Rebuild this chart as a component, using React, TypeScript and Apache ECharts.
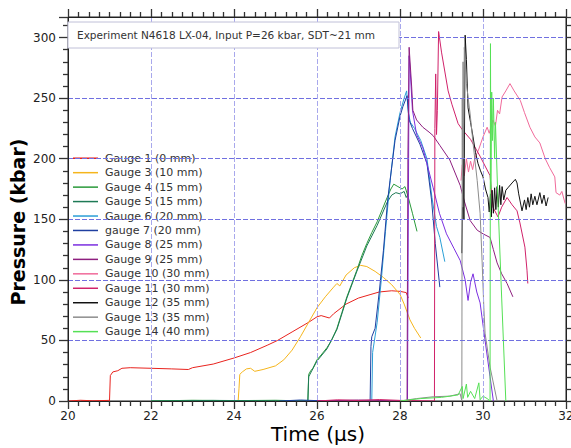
import React, { useEffect, useRef } from "react";
import * as echarts from "echarts";

const gaugeNames = [
  "Gauge 1 (0 mm)", "Gauge 3 (10 mm)", "Gauge 4 (15 mm)", "Gauge 5 (15 mm)",
  "Gauge 6 (20 mm)", "gauge 7 (20 mm)", "Gauge 8 (25 mm)", "Gauge 9 (25 mm)",
  "Gauge 10 (30 mm)", "Gauge 11 (30 mm)", "Gauge 12 (35 mm)", "Gauge 13 (35 mm)",
  "Gauge 14 (40 mm)",
];
const gaugeColors = [
  "#e8231e", "#f5b51c", "#2a9a3a", "#1e7a56", "#2a9fd6", "#1f3fa0", "#7b2fe0",
  "#8e1f7f", "#f06a9a", "#d0226a", "#111111", "#8c8c8c", "#55e055",
];
const titleText = "Experiment N4618 LX-04, Input P=26 kbar, SDT~21 mm";
const xAxisTitle = "Time (μs)";
const yAxisTitle = "Pressure (kbar)";

// [time (us), pressure (kbar)]
const gauge1 = [
  [20.0, 0], [20.3, 0.6], [20.6, 0.2], [20.98, 0.5], [21.0, 0], [21.02, 21], [21.08, 24], [21.2, 25],
  [21.3, 27], [21.5, 27.5], [22.0, 27], [22.5, 26.5], [22.9, 26], [23.0, 27.5], [23.5, 30.5],
  [24.0, 35.5], [24.4, 40], [24.8, 46], [25.05, 50], [25.4, 57], [25.8, 65], [26.0, 69.5],
  [26.1, 70.5], [26.3, 68.5], [26.4, 72], [26.7, 80], [27.0, 85], [27.3, 88], [27.5, 90],
  [27.8, 91], [28.0, 90.5], [28.15, 89.5], [28.2, 85],
];
const gauge3 = [
  [24.1, 0], [24.12, 10], [24.14, 22], [24.2, 24], [24.3, 26.5], [24.4, 27], [24.5, 24.5],
  [24.7, 26], [25.0, 29], [25.2, 34], [25.4, 42], [25.6, 53], [25.8, 65], [26.0, 77],
  [26.2, 86], [26.4, 94], [26.48, 97], [26.55, 95], [26.7, 104], [26.9, 110], [27.05, 112],
  [27.2, 111], [27.4, 107], [27.6, 102], [27.8, 96], [28.0, 88], [28.1, 80], [28.24, 67],
  [28.35, 60], [28.5, 52],
];
const gauge4 = [
  [22.0, 0], [23.0, 0.6], [24.0, 0.3], [25.0, 0.6], [25.78, 0], [25.8, 22], [25.85, 25],
  [25.9, 27], [26.0, 34], [26.1, 38], [26.24, 44], [26.35, 50], [26.48, 60], [26.6, 73],
  [26.72, 86], [26.84, 97], [26.96, 108], [27.08, 120], [27.2, 130], [27.32, 139],
  [27.45, 148], [27.57, 158], [27.69, 168], [27.78, 175], [27.85, 179], [27.95, 177],
  [28.05, 175], [28.12, 177], [28.2, 168], [28.3, 155], [28.41, 140],
];
const gauge5 = [
  [22.0, 0], [23.5, 0.5], [25.78, 0], [25.8, 20], [25.86, 24], [26.0, 33], [26.24, 43],
  [26.48, 59], [26.72, 85], [26.96, 107], [27.2, 128], [27.45, 145], [27.69, 164],
  [27.8, 170], [27.9, 172], [28.0, 171], [28.1, 173], [28.15, 168], [28.2, 171],
];
const gauge6 = [
  [27.32, 0], [27.34, 40], [27.45, 65], [27.55, 100], [27.65, 140], [27.75, 178],
  [27.88, 218], [28.0, 238], [28.1, 250], [28.16, 256], [28.2, 238], [28.25, 230],
  [28.35, 225], [28.5, 215], [28.65, 200], [28.77, 168], [28.88, 144], [28.96, 135],
  [29.08, 115],
];
const gauge7 = [
  [25.1, 0], [25.6, 0.8], [26.0, 0.3], [27.28, 0], [27.3, 45], [27.32, 53], [27.4, 60],
  [27.5, 90], [27.6, 124], [27.7, 165], [27.76, 182], [27.88, 215], [28.0, 235],
  [28.07, 243], [28.17, 252], [28.2, 240], [28.22, 232], [28.3, 225], [28.48, 212],
  [28.65, 196], [28.76, 166], [28.85, 130], [28.96, 94],
];
const gauge8 = [
  [28.18, 0], [28.2, 150], [28.22, 285], [28.25, 270], [28.3, 240], [28.4, 220],
  [28.55, 209], [28.8, 176], [28.95, 155], [29.12, 138], [29.3, 126], [29.45, 116],
  [29.57, 100], [29.64, 83], [29.7, 98], [29.76, 105], [29.85, 90], [29.93, 81],
  [30.05, 50], [30.17, 20], [30.25, 0],
];
const gauge9 = [
  [26.0, 0], [27.0, 0.8], [28.17, 0], [28.19, 200], [28.22, 292], [28.28, 260],
  [28.31, 240], [28.4, 232], [28.55, 226], [28.7, 222], [28.8, 219], [28.96, 211],
  [29.2, 199], [29.45, 178], [29.55, 165], [29.69, 149], [29.86, 141], [30.0, 138],
  [30.17, 135], [30.25, 125], [30.34, 114], [30.45, 105], [30.58, 97], [30.72, 86],
];
const gauge10 = [
  [29.47, 182], [29.5, 195], [29.55, 186], [29.6, 200], [29.65, 189], [29.7, 198],
  [29.75, 191], [29.8, 200], [29.9, 208], [30.0, 218], [30.1, 226], [30.15, 221],
  [30.24, 232], [30.3, 227], [30.35, 240], [30.4, 237], [30.46, 251], [30.55, 256],
  [30.65, 262], [30.75, 256], [30.9, 248], [31.0, 238], [31.13, 226], [31.25, 218],
  [31.37, 213], [31.5, 200], [31.6, 193], [31.73, 185], [31.76, 172], [31.85, 170],
  [31.9, 173], [31.98, 163],
];
const gauge11 = [
  [26.0, 0], [26.5, 1], [27.0, 0.4], [27.5, 1.2], [28.0, 0.5], [28.83, 0], [28.84, 225],
  [28.86, 270], [28.88, 220], [28.9, 240], [28.93, 305], [29.0, 288], [29.16, 256],
  [29.25, 245], [29.4, 229], [29.5, 224], [29.7, 216], [29.93, 202], [30.17, 186],
  [30.24, 160], [30.36, 152], [30.45, 160], [30.58, 168], [30.7, 162], [30.82, 157],
  [30.89, 147], [31.01, 127], [31.06, 108], [31.08, 97],
];
const gauge12 = [
  [29.49, 122], [29.52, 200], [29.54, 150], [29.57, 302], [29.6, 282], [29.64, 242],
  [29.7, 230], [29.76, 218], [29.82, 205], [29.88, 196], [29.94, 190], [30.0, 185],
  [30.06, 175], [30.12, 168], [30.15, 156], [30.18, 171], [30.2, 152], [30.22, 174],
  [30.25, 155], [30.28, 176], [30.31, 158], [30.34, 177], [30.37, 160], [30.4, 178],
  [30.43, 162], [30.46, 177], [30.5, 166], [30.55, 174], [30.6, 176], [30.7, 180],
  [30.78, 183], [30.82, 180], [30.86, 171], [30.94, 157], [31.0, 166], [31.04, 158],
  [31.08, 168], [31.12, 160], [31.16, 171], [31.2, 162], [31.25, 169], [31.3, 162],
  [31.37, 172], [31.42, 163], [31.47, 170], [31.52, 161], [31.57, 168],
];
const gauge13 = [
  [28.0, 0], [28.4, 2], [28.8, 3.5], [29.2, 4], [29.45, 6], [29.49, 0], [29.5, 250],
  [29.51, 160], [29.52, 280], [29.53, 200], [29.55, 292], [29.6, 262], [29.69, 237],
  [29.76, 213], [29.86, 182], [29.93, 155], [29.98, 114], [30.02, 77], [30.05, 56],
  [30.17, 28], [30.34, 0],
];
const gauge14 = [
  [28.0, 0], [28.5, 2], [29.0, 3], [29.4, 5], [29.5, 12], [29.52, 2], [29.6, 14],
  [29.63, 3], [29.7, 8], [29.8, 2], [29.9, 15], [29.93, 1], [30.0, 4], [30.1, 2],
  [30.17, 0], [30.18, 295], [30.19, 175], [30.21, 255], [30.23, 215], [30.25, 250],
  [30.28, 200], [30.3, 230], [30.36, 165], [30.45, 85], [30.55, 0],
];
const gaugeData = [
  gauge1, gauge3, gauge4, gauge5, gauge6, gauge7, gauge8, gauge9, gauge10, gauge11,
  gauge12, gauge13, gauge14,
];

const FONT = "DejaVu Sans";

export default function App() {
  const ref = useRef<HTMLDivElement>(null);
  useEffect(() => {
    if (!ref.current) return;
    const chart = echarts.init(ref.current, undefined, { renderer: "svg" });
    const tickColor = "#333";
    const xCommon = {
      type: "value", min: 20, max: 32, interval: 2, z: 5,
      axisLine: { show: true, onZero: false, lineStyle: { color: "#222", width: 1 } },
      axisTick: { show: true, inside: false, length: 8, lineStyle: { color: tickColor, width: 1.3 } },
      minorTick: { show: true, splitNumber: 8, length: 5, lineStyle: { color: tickColor, width: 1.3 } },
    };
    const yCommon = {
      type: "value", min: 0, max: 317, interval: 50, z: 5,
      axisLine: { show: true, onZero: false, lineStyle: { color: "#222", width: 1 } },
      axisTick: { show: true, inside: false, length: 9, lineStyle: { color: tickColor, width: 1.3 } },
      minorTick: { show: true, splitNumber: 5, length: 5, lineStyle: { color: tickColor, width: 1.3 } },
    };
    chart.setOption({
      animation: false,
      backgroundColor: "#fff",
      grid: {
        left: 68, right: 5, top: 17, bottom: 47, outerBoundsMode: "none", containLabel: false,
        show: true, borderColor: "#222", borderWidth: 1, backgroundColor: "transparent",
      },
      xAxis: [
        {
          ...xCommon, position: "bottom",
          splitLine: { show: true, lineStyle: { color: "#a8a8ec", type: [5, 2], width: 1 } },
          axisLabel: { fontSize: 12, color: "#222", margin: 9, fontFamily: FONT },
        },
        { ...xCommon, position: "top", axisLabel: { show: false }, splitLine: { show: false } },
      ],
      yAxis: [
        {
          ...yCommon, position: "left",
          splitLine: { show: true, lineStyle: { color: "#7070e0", type: [5, 2], width: 1 } },
          axisLabel: { fontSize: 12, color: "#222", margin: 12, fontFamily: FONT, showMaxLabel: false },
        },
        { ...yCommon, position: "right", axisLabel: { show: false }, splitLine: { show: false } },
      ],
      legend: {
        data: gaugeNames,
        orient: "vertical",
        left: 69, top: 149,
        icon: "rect", itemWidth: 25, itemHeight: 1.5, itemGap: 0,
        backgroundColor: "#fff",
        padding: [2, 6, 2, 4],
        textStyle: { fontSize: 11, color: "#333", lineHeight: 14.45, fontFamily: FONT, padding: [0, 0, 0, 2] },
      },
      graphic: [
        {
          type: "rect", shape: { x: 68, y: 22, width: 331, height: 26 },
          style: { fill: "#fff", stroke: "#c0c0d8", lineWidth: 1 }, z: 10,
        },
        {
          type: "text", x: 77, y: 35, z: 11,
          style: { text: titleText, fontSize: 10.5, fill: "#333", fontFamily: FONT, verticalAlign: "middle" },
        },
        {
          type: "text", x: 318, y: 434, z: 11,
          style: { text: xAxisTitle, fontSize: 20, fill: "#000", fontFamily: FONT, align: "center", verticalAlign: "middle" },
        },
        {
          type: "text", x: 18, y: 222, rotation: Math.PI / 2, z: 11,
          style: { text: yAxisTitle, fontSize: 19, fontWeight: "bold", fill: "#000", fontFamily: FONT, align: "center", verticalAlign: "middle" },
        },
      ],
      series: gaugeNames.map((name, i) => ({
        name, type: "line", data: gaugeData[i], showSymbol: false, symbol: "none",
        color: gaugeColors[i], lineStyle: { width: 1, color: gaugeColors[i] },
        xAxisIndex: 0, yAxisIndex: 0, clip: true,
      })),
    });
    return () => chart.dispose();
  }, []);
  return <div ref={ref} style={{ width: 571, height: 448, position: "absolute", left: 0, top: 0 }} />;
}
